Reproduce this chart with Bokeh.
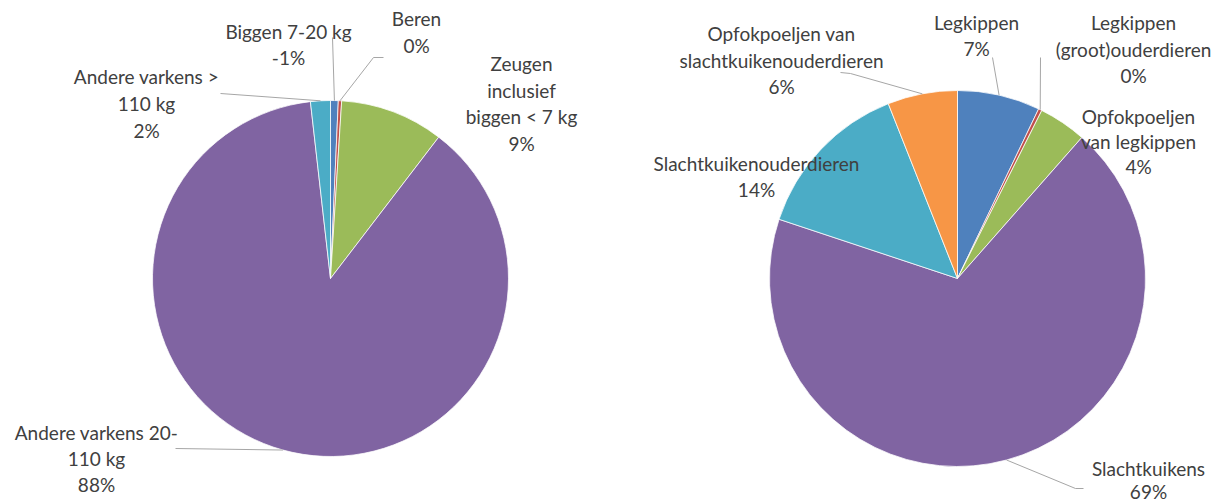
import math
from bokeh.plotting import figure
from bokeh.models import ColumnDataSource, Range1d
from bokeh.core.properties import value
from bokeh.embed import file_html
from bokeh.resources import INLINE

# ---------------- data ----------------
left_categories = ["Biggen 7-20 kg", "Beren", "Zeugen inclusief biggen < 7 kg",
                   "Andere varkens 20-110 kg", "Andere varkens > 110 kg"]
left_values = [-0.7, 0.3, 9.4, 87.8, 1.8]
left_colors = ["#4F81BD", "#C0504D", "#9BBB59", "#8064A2", "#4BACC6"]

right_categories = ["Legkippen", "Legkippen (groot)ouderdieren", "Opfokpoeljen van legkippen",
                    "Slachtkuikens", "Slachtkuikenouderdieren",
                    "Opfokpoeljen van slachtkuikenouderdieren"]
right_values = [7.1, 0.3, 4.1, 68.6, 13.9, 6.0]
right_colors = ["#4F81BD", "#C0504D", "#9BBB59", "#8064A2", "#4BACC6", "#F79646"]

# ---------------- layout (screen pixel coordinates) ----------------
W, H = 1215, 504
FONT = value("Lato")
FSIZE = "19px"
TXT = "#404040"
LEAD = "#A6A6A6"

left_pie = dict(cx=330, cy=278, r=178)
right_pie = dict(cx=957, cy=278, r=188)

# label line breaks, centre x, first line centre y, leader path, line height
left_labels = [
    (["Biggen 7-20 kg"], 288, 31, [(332, 37)], 26),
    (["Beren"], 416, 18, [(373, 57), (383, 57)], 27),
    (["Zeugen", "inclusief", "biggen < 7 kg"], 521, 63, None, 26.7),
    (["Andere varkens 20-", "110 kg"], 96, 432, [(175, 448)], 26),
    (["Andere varkens >", "110 kg"], 146, 76, [(220, 93)], 27),
]
right_labels = [
    (["Legkippen"], 976, 22, [(992, 57)], 25.5),
    (["Legkippen", "(groot)ouderdieren"], 1133, 22, [(1040, 57)], 26.5),
    (["Opfokpoeljen", "van legkippen"], 1138, 116, None, 25),
    (["Slachtkuikens"], 1148, 468, [(1075, 488), (1083, 488)], 23),
    (["Slachtkuikenouderdieren"], 756, 163, None, 26),
    (["Opfokpoeljen van", "slachtkuikenouderdieren"], 781, 33, [(850, 73), (840, 72)], 26.5),
]

p = figure(width=W, height=H, output_backend="svg", toolbar_location=None,
           x_range=Range1d(0, W), y_range=Range1d(0, H), min_border=0)
p.axis.visible = False
p.grid.visible = False
p.outline_line_color = None
p.background_fill_color = "white"
p.border_fill_color = "white"


def draw_pie(values, colors, pie, labels):
    total = sum(abs(v) for v in values)
    fracs = [abs(v) / total for v in values]
    starts, ends, mids = [], [], []
    cum = 0.0
    for f in fracs:
        starts.append(math.pi / 2 - 2 * math.pi * cum)
        mids.append(cum + f / 2)
        cum += f
        ends.append(math.pi / 2 - 2 * math.pi * cum)
    src = ColumnDataSource(dict(x=[pie["cx"]] * len(values), y=[H - pie["cy"]] * len(values),
                                start=starts, end=ends, color=colors))
    p.wedge(x="x", y="y", radius=pie["r"], start_angle="start", end_angle="end",
            direction="clock", fill_color="color", line_color="white", line_width=0.75,
            source=src)
    tx, ty, tt = [], [], []
    for v, m, (lines, lx, ly, path, lh) in zip(values, mids, labels):
        pct = round(v / total * 100)
        all_lines = lines + [f"{pct}%"]
        for i, ln in enumerate(all_lines):
            tx.append(lx)
            ty.append(H - (ly + i * lh))
            tt.append(ln)
        if path:
            th = 2 * math.pi * m
            ex = pie["cx"] + pie["r"] * math.sin(th)
            ey = pie["cy"] - pie["r"] * math.cos(th)
            xs = [ex] + [q[0] for q in path]
            ys = [H - ey] + [H - q[1] for q in path]
            p.line(xs, ys, line_color=LEAD, line_width=1)
    p.text(x=tx, y=ty, text=tt, text_align="center", text_baseline="middle",
           text_font=FONT, text_font_size=FSIZE, text_color=TXT)


draw_pie(left_values, left_colors, left_pie, left_labels)
draw_pie(right_values, right_colors, right_pie, right_labels)

open("out.html", "w").write(file_html(p, INLINE))
